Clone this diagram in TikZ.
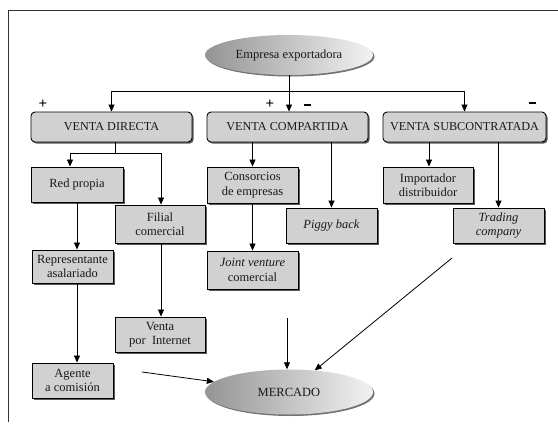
\documentclass[tikz,border=0pt]{standalone}
\usepackage{fontspec}
\setmainfont{Liberation Serif}
\usepackage{tikz}
\usetikzlibrary{shapes.geometric, arrows.meta, shadows, calc}

\begin{document}
\begin{tikzpicture}[
    x=1pt, y=-1pt,
    block/.style={rectangle, draw, line width=0.9pt, fill=black!18, text=black!90, minimum width=91pt, minimum height=35pt, align=center, inner sep=1pt, font=\rmfamily\fontsize{12.5}{14.5}\selectfont, drop shadow={shadow xshift=1.6pt, shadow yshift=-1.6pt, fill=black!65, opacity=1}},
    venta/.style={block, rounded corners=4pt, minimum width=161pt, minimum height=30pt, font=\rmfamily\fontsize{12.2}{14}\selectfont},
    oval/.style={ellipse, minimum width=168pt, minimum height=40pt, left color=black!42, right color=black!5, text=black!90, font=\rmfamily\fontsize{12.5}{14.5}\selectfont, drop shadow={shadow xshift=1.5pt, shadow yshift=-1.5pt, fill=black!55, opacity=1}},
    arrow/.style={-{Triangle[width=6pt,length=7pt]}, line width=0.8pt},
    sign/.style={font=\rmfamily\fontsize{15}{15}\selectfont\bfseries, inner sep=0pt},
]
\useasboundingbox (0,0) rectangle (558,429);

% Frame
\draw[line width=0.8pt, black!80] (8,422) -- (8,10) -- (558,10);

% Empresa
\node[oval] (emp) at (289,55) {Empresa exportadora};

% Venta
\node[venta] (directa) at (111.5,127) {VENTA DIRECTA};
\node[venta] (compartida) at (287.5,127) {VENTA COMPARTIDA};
\node[venta, minimum width=163pt] (subcontratada) at (464.5,127) {VENTA SUBCONTRATADA};
\node[sign] (plusa) at (43,104) {+};
\node[sign] (plusb) at (270,104) {+};
\node[sign] (minusa) at (307,105) {\rule{7pt}{1.8pt}};
\node[sign] (minusb) at (532,103) {\rule{7pt}{1.8pt}};

% Directa
\node[block, minimum width=92pt] (redpropia) at (77,184.5) {Red propia};
\node[block, minimum width=90pt, minimum height=38pt] (filial) at (160,224) {Filial\\comercial};
\node[block, minimum width=81pt, minimum height=33pt] (repre) at (72.5,266.5) {Representante\\asalariado};
\node[block, minimum width=90pt] (internet) at (160,334.5) {Venta\\por~ Internet};
\node[block, minimum width=81pt] (agente) at (72.5,380.5) {Agente\\a comisión};

% Compartida
\node[block, minimum height=36pt] (consorcios) at (252.5,185) {Consorcios\\de empresas};
\node[block, minimum height=38pt] (joint) at (252.5,270) {\textit{Joint venture}\\comercial};
\node[block] (piggy) at (331.5,225.5) {\textit{Piggy back}};

% Subcontratada
\node[block, minimum width=90pt, minimum height=36pt] (importador) at (428,185) {Importador\\distribuidor};
\node[block] (trading) at (498.5,225.5) {\textit{Trading}\\\textit{company}};

% Mercado
\node[oval, minimum height=45pt] (mercado) at (289,392) {MERCADO};
\coordinate (ma) at (142,372);
\coordinate (mb) at (287,318);
\coordinate (mc) at (452,258);

% Arrows
\draw[arrow] (emp.south) -- ++(0,16) -| (directa.north);
\draw[arrow] (emp.south) -- (emp.south |- compartida.north);
\draw[arrow] (emp.south) -- ++(0,16) -| (subcontratada.north);

\draw[arrow] ($(directa.south)+(3.5,0)$) -- ++(0,11) -| ($(redpropia.north)+(-7,0)$);
\draw[arrow] ($(directa.south)+(3.5,0)$) -- ++(0,11) -| ($(filial.north)+(1,0)$);
\draw[arrow] (redpropia.south) -- (redpropia.south |- repre.north);
\draw[arrow] (redpropia.south |- repre.south) -- (redpropia.south |- agente.north);
\draw[arrow] ($(filial.south)+(1,0)$) -- ($(internet.north)+(1,0)$);

\draw[arrow] (consorcios.north |- compartida.south) -- (consorcios.north);
\draw[arrow] (piggy.north |- compartida.south) -- (piggy.north);
\draw[arrow] (consorcios.south) -- (joint.north);

\draw[arrow] ($(importador.north |- subcontratada.south)+(1,0)$) -- ($(importador.north)+(1,0)$);
\draw[arrow] (trading.north |- subcontratada.south) -- (trading.north);

\draw[arrow] (ma) -- (mercado);
\draw[arrow] (mb) -- (mb |- mercado.north);
\draw[arrow] (mc) -- (mercado.40);

\end{tikzpicture}
\end{document}
